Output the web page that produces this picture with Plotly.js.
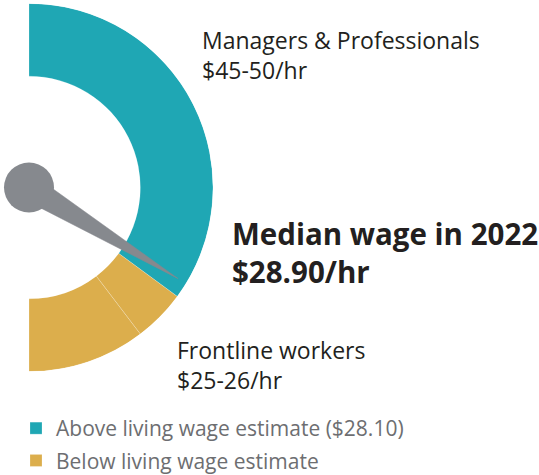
<!DOCTYPE html>
<html><head><meta charset="utf-8">
<script src="https://cdn.plot.ly/plotly-3.0.1.min.js"></script>
<style>html,body{margin:0;padding:0;background:#fff}#chart{width:539px;height:475px}</style>
</head><body><div id="chart"></div>
<script>
// Gauge wage scale ($/hr): top end of the arc and bottom end of the arc
const gaugeTop = 48.8;
const gaugeBottom = 19.3;
// Bands (from, to) in $/hr
const aboveBands = [[48.8, 28.10]];
const belowBands = [[28.10, 25.4], [25.4, 19.3]];
const legendNames = ['Above living wage estimate ($28.10)', 'Below living wage estimate'];
const medianWage = 28.90;
const labelTop = ['Managers & Professionals', '$45-50/hr'];
const labelBottom = ['Frontline workers', '$25-26/hr'];
const labelMedian = ['Median wage in 2022', '$28.90/hr'];

const TEAL = '#1fa7b4', GOLD = '#dcae4c', NEEDLE = '#86898e';
const innerR = 0.605;
const toTheta = w => (gaugeTop - w) / (gaugeTop - gaugeBottom) * 180;

function bandTrace(bands, name, color, group) {
  return {
    type: 'barpolar', name: name, legendgroup: group,
    theta: bands.map(b => (toTheta(b[0]) + toTheta(b[1])) / 2),
    width: bands.map(b => toTheta(b[1]) - toTheta(b[0])),
    r: bands.map(() => 1 - innerR), base: bands.map(() => innerR),
    marker: {color: color, line: {color: 'rgba(255,255,255,0.35)', width: 0.6}},
    hoverinfo: 'skip'
  };
}
const tn = toTheta(medianWage);
const needle = {
  type: 'scatterpolar', mode: 'lines', fill: 'toself', fillcolor: NEEDLE,
  r: [0.07, 0.95, 0.07], theta: [tn - 90, tn, tn + 90],
  line: {color: NEEDLE, width: 0.5}, cliponaxis: false, showlegend: false, hoverinfo: 'skip'
};
const hub = {
  type: 'scatterpolar', mode: 'markers', r: [0], theta: [0],
  marker: {size: 50, color: NEEDLE}, cliponaxis: false, showlegend: false, hoverinfo: 'skip'
};

const W = 539, H = 475;
const px = x => x / W, py = y => 1 - y / H;
const txtFont = {family: 'Open Sans, sans-serif', size: 23, color: '#231f20'};
const layout = {
  width: W, height: H, margin: {l: 0, r: 0, t: 0, b: 0, autoexpand: false},
  paper_bgcolor: '#fff', plot_bgcolor: '#fff',
  polar: {
    domain: {x: [px(29), px(213)], y: [py(372), py(3)]},
    sector: [-90, 90], barmode: 'overlay', bgcolor: 'rgba(0,0,0,0)',
    radialaxis: {visible: false, range: [0, 1]},
    angularaxis: {visible: false, rotation: 90, direction: 'clockwise'}
  },
  showlegend: true,
  legend: {x: px(16), y: py(408), xanchor: 'left', yanchor: 'top', tracegroupgap: 2,
    font: {family: 'Open Sans, sans-serif', size: 21, color: '#6d6e71'}, bgcolor: 'rgba(0,0,0,0)'},
  annotations: [
    {xref: 'paper', yref: 'paper', x: px(200), y: py(55), xanchor: 'left', yanchor: 'middle', align: 'left', showarrow: false,
     text: labelTop.join('<br>'), font: txtFont},
    {xref: 'paper', yref: 'paper', x: px(175), y: py(365), xanchor: 'left', yanchor: 'middle', align: 'left', showarrow: false,
     text: labelBottom.join('<br>'), font: txtFont},
    {xref: 'paper', yref: 'paper', x: px(230), y: py(252), xanchor: 'left', yanchor: 'middle', align: 'left', showarrow: false,
     text: '<b>' + labelMedian.join('<br>') + '</b>', font: {family: 'Open Sans, sans-serif', size: 29.5, color: '#231f20'}}
  ]
};
Plotly.newPlot('chart', [bandTrace(aboveBands, legendNames[0], TEAL, 'a'), bandTrace(belowBands, legendNames[1], GOLD, 'b'), needle, hub], layout, {displayModeBar: false});
</script></body></html>
